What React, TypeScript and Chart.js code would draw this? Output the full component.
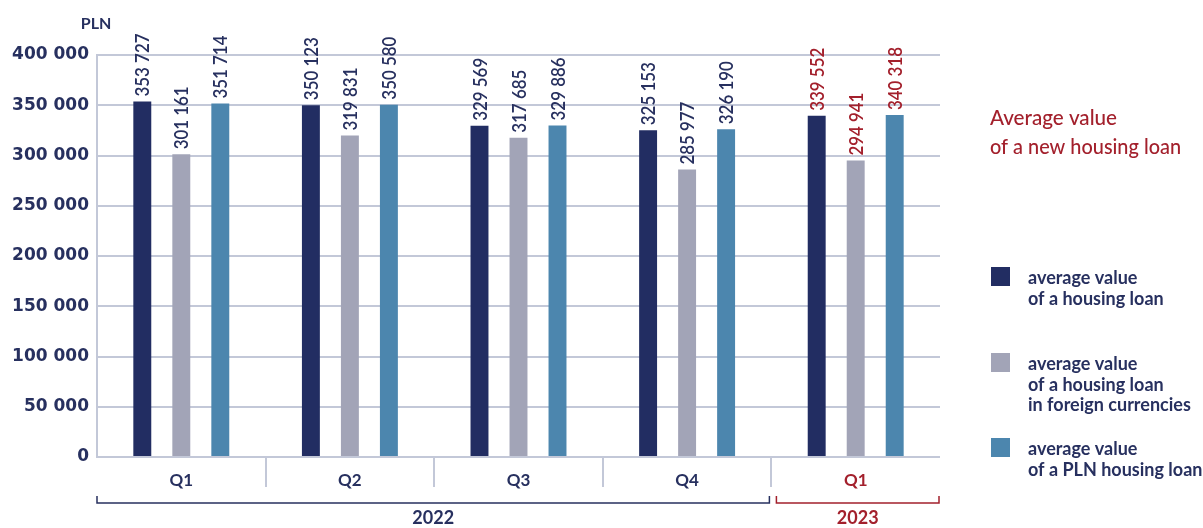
import React, { useEffect, useRef } from "react";
import { Chart, registerables } from "chart.js";

Chart.register(...registerables);

const categories = ["Q1", "Q2", "Q3", "Q4", "Q1"];
const yearGroups = [
  { label: "2022", from: 0, to: 3 },
  { label: "2023", from: 4, to: 4 },
];
const housingLoan = [353727, 350123, 329569, 325153, 339552];
const foreignCurrencyLoan = [301161, 319831, 317685, 285977, 294941];
const plnLoan = [351714, 350580, 329886, 326190, 340318];
const seriesNames = [
  ["average value", "of a housing loan"],
  ["average value", "of a housing loan", "in foreign currencies"],
  ["average value", "of a PLN housing loan"],
];
const titleLines = ["Average value", "of a new housing loan"];
const unitLabel = "PLN";
const yMin = 0;
const yMax = 400000;
const yStep = 50000;

const NAVY = "#27305f";
const RED = "#a3202c";
const GRID = "#c3c8d8";
const C_DARK = "#222d62";
const C_GRAY = "#a2a4b7";
const C_BLUE = "#4c86ae";

const fmt = (n: number) => String(n).replace(/\B(?=(\d{3})+(?!\d))/g, " ");

const overlay = {
  id: "overlay",
  afterDraw(chart: any) {
    const ctx: CanvasRenderingContext2D = chart.ctx;
    const xs = chart.scales.x;
    const area = chart.chartArea;
    const n = categories.length;
    const half = (xs.getPixelForValue(1) - xs.getPixelForValue(0)) / 2;
    const isNew = (i: number) => i >= yearGroups[yearGroups.length - 1].from;

    // value labels
    chart.data.datasets.forEach((ds: any, di: number) => {
      const meta = chart.getDatasetMeta(di);
      meta.data.forEach((bar: any, i: number) => {
        ctx.save();
        ctx.translate(bar.x, bar.y - 5);
        ctx.rotate(-Math.PI / 2);
        ctx.font = "600 19px Lato";
        ctx.fillStyle = isNew(i) ? RED : NAVY;
        ctx.textAlign = "left";
        ctx.textBaseline = "middle";
        ctx.fillText(fmt(ds.data[i]), 0, 1, 63);
        ctx.restore();
      });
    });

    // category separators
    ctx.save();
    ctx.strokeStyle = GRID;
    ctx.lineWidth = 2;
    for (let i = 0; i < n - 1; i++) {
      const bx = Math.round(xs.getPixelForValue(i) + half);
      ctx.beginPath();
      ctx.moveTo(bx, area.bottom);
      ctx.lineTo(bx, area.bottom + 30);
      ctx.stroke();
    }
    ctx.restore();

    // category labels
    ctx.save();
    ctx.font = "700 17px Lato";
    ctx.textAlign = "center";
    ctx.textBaseline = "middle";
    categories.forEach((c, i) => {
      ctx.fillStyle = isNew(i) ? RED : NAVY;
      ctx.fillText(c, xs.getPixelForValue(i), area.bottom + 24);
    });
    ctx.restore();

    // year brackets
    yearGroups.forEach((g, gi) => {
      let l = xs.getPixelForValue(g.from) - half;
      let r = xs.getPixelForValue(g.to) + half;
      if (g.from > 0) l += 5;
      if (g.to < n - 1) r -= 2;
      else r -= 1;
      const col = gi === yearGroups.length - 1 ? RED : NAVY;
      const by = area.bottom + 46;
      ctx.save();
      ctx.strokeStyle = col;
      ctx.lineWidth = 1.5;
      ctx.beginPath();
      ctx.moveTo(l, by - 7);
      ctx.lineTo(l, by);
      ctx.lineTo(r, by);
      ctx.lineTo(r, by - 7);
      ctx.stroke();
      ctx.fillStyle = col;
      ctx.font = "700 18px Lato";
      ctx.textAlign = "center";
      ctx.textBaseline = "alphabetic";
      ctx.fillText(g.label, (l + r) / 2, area.bottom + 67);
      ctx.restore();
    });

    // unit label
    ctx.save();
    ctx.fillStyle = NAVY;
    ctx.font = "700 16px Lato";
    ctx.textAlign = "center";
    ctx.textBaseline = "alphabetic";
    ctx.fillText(unitLabel, 96, 29);
    ctx.restore();

    // title
    ctx.save();
    ctx.fillStyle = RED;
    ctx.font = "500 21px Lato";
    ctx.textAlign = "left";
    ctx.textBaseline = "alphabetic";
    ctx.fillText(titleLines[0], 990, 125, 127);
    ctx.fillText(titleLines[1], 990, 154, 191);
    ctx.restore();

    // legend
    const tops = [267, 353, 438];
    chart.data.datasets.forEach((ds: any, di: number) => {
      const t = tops[di];
      ctx.save();
      ctx.fillStyle = ds.backgroundColor;
      ctx.fillRect(991, t, 19, 19);
      ctx.fillStyle = NAVY;
      ctx.font = "700 18px Lato";
      ctx.textAlign = "left";
      ctx.textBaseline = "alphabetic";
      seriesNames[di].forEach((line, li) => {
        ctx.fillText(line, 1028, t + 17 + li * 20.5, 175);
      });
      ctx.restore();
    });
  },
};

export default function App() {
  const ref = useRef<HTMLCanvasElement | null>(null);
  useEffect(() => {
    if (!ref.current) return;
    const chart = new Chart(ref.current, {
      type: "bar",
      data: {
        labels: categories,
        datasets: [
          { label: seriesNames[0].join(" "), data: housingLoan, backgroundColor: C_DARK },
          { label: seriesNames[1].join(" "), data: foreignCurrencyLoan, backgroundColor: C_GRAY },
          { label: seriesNames[2].join(" "), data: plnLoan, backgroundColor: C_BLUE },
        ],
      },
      options: {
        responsive: false,
        animation: false,
        devicePixelRatio: 1,
        layout: { padding: { top: 55, right: 263, bottom: 71, left: 0 } },
        datasets: { bar: { categoryPercentage: 0.694, barPercentage: 0.46 } },
        plugins: { legend: { display: false }, tooltip: { enabled: false }, title: { display: false } },
        scales: {
          x: { display: false, grid: { display: false } },
          y: {
            min: yMin,
            max: yMax,
            afterFit: (s: any) => {
              s.width = 97;
            },
            ticks: {
              stepSize: yStep,
              padding: 8,
              color: NAVY,
              font: { family: "DejaVu Sans", weight: "bold", size: 17 },
              callback: (v: any) => fmt(Number(v)),
            },
            grid: { color: GRID, lineWidth: 2, drawTicks: false },
            border: { display: true, color: GRID, width: 2 },
          },
        },
      },
      plugins: [overlay],
    } as any);
    return () => chart.destroy();
  }, []);
  return (
    <div style={{ position: "fixed", left: 0, top: 0, width: 1203, height: 528, background: "#fff" }}>
      <canvas ref={ref} width={1203} height={528} />
    </div>
  );
}
